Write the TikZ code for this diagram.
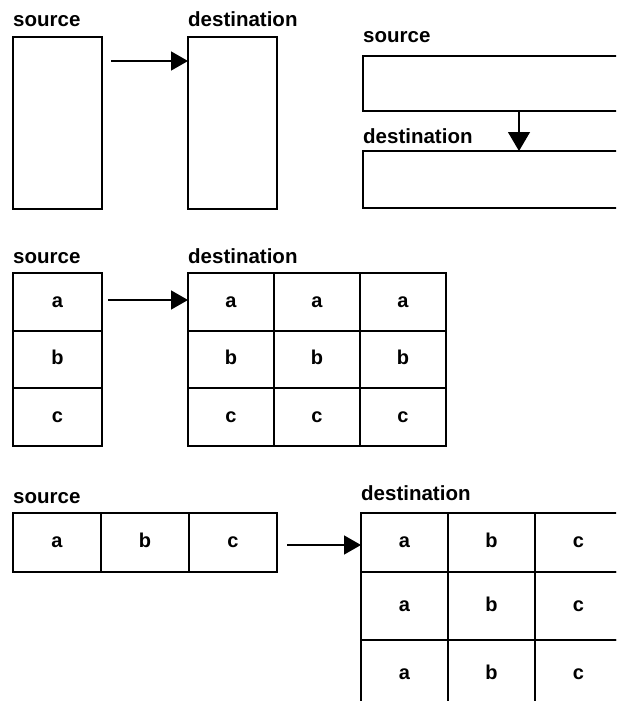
\documentclass[tikz,border=0pt]{standalone}
\usepackage{fontspec}
\setmainfont{Liberation Sans}
\usetikzlibrary{arrows.meta,positioning}
\tikzset{
  box/.style={draw, rectangle, line width=1.6pt, inner sep=0pt, outer sep=0pt},
  cell/.style={box, text height=10pt, text depth=0pt, font=\bfseries\fontsize{20}{20}\selectfont},
  lbl/.style={anchor=base west, inner sep=0pt, font=\bfseries\fontsize{20.5}{20.5}\selectfont},
  flow/.style={line width=1.6pt, -{Triangle[length=17pt,width=19pt]}},
  drop/.style={line width=1.2pt, -{Triangle[length=19pt,width=22pt]}}
}
\begin{document}
\begin{tikzpicture}[x=1pt, y=-1pt]
\useasboundingbox (0,0) rectangle (616,701);
\clip (0,0) rectangle (616,701);
\node[box, minimum width=89pt, minimum height=172pt] (src1) at (57.5,123) {};
\node[box, minimum width=89pt, minimum height=172pt] (dst1) at (232.5,123) {};
\node[lbl] (src1lbl) at ([yshift=10pt]src1.north west) {source};
\node[lbl] (dst1lbl) at ([yshift=10pt]dst1.north west) {destination};
\draw[flow] ([shift={(9,24)}]src1.north east) -- ([shift={(0,24)}]dst1.north west);
\node[box, minimum width=277pt, minimum height=55pt] (src2) at (501.5,83.5) {};
\node[box, minimum width=277pt, minimum height=57pt] (dst2) at (501.5,179.5) {};
\node[lbl] (src2lbl) at ([yshift=13pt]src2.north west) {source};
\node[lbl] (dst2lbl) at ([yshift=8pt]dst2.north west) {destination};
\draw[drop] ([xshift=17.5pt]src2.south) -- ([xshift=17.5pt]dst2.north);
\foreach \l/\y in {a/302,b/359.5,c/417}{
  \node[cell, minimum width=89pt, minimum height=57.5pt] (s3\l) at (57.5,\y) {\l};
  \foreach \k/\x in {1/231,2/317,3/403}
    \node[cell, minimum width=86pt, minimum height=57.5pt] (d3\l\k) at (\x,\y) {\l};
}
\node[lbl] (src3lbl) at ([yshift=10pt]s3a.north west) {source};
\node[lbl] (dst3lbl) at ([yshift=10pt]d3a1.north west) {destination};
\draw[flow] ([shift={(6,-2)}]s3a.east) -- ([yshift=2pt]d3a1.west);
\foreach \l/\x in {a/57,b/145,c/233}
  \node[cell, minimum width=88pt, minimum height=59pt] (s4\l) at (\x,542.5) {\l};
\foreach \r/\y/\h in {1/542.5/59,2/606/68,3/674/68}
  \foreach \l/\x in {a/404.5,b/491.5,c/578.5}
    \node[cell, minimum width=87pt, minimum height=\h pt] (d4\l\r) at (\x,\y) {\l};
\node[lbl] (src4lbl) at ([yshift=10pt]s4a.north west) {source};
\node[lbl] (dst4lbl) at ([yshift=13pt]d4a1.north west) {destination};
\draw[flow] ([shift={(10,2.5)}]s4c.east) -- ([yshift=-2.5pt]d4a1.west);
\end{tikzpicture}
\end{document}
